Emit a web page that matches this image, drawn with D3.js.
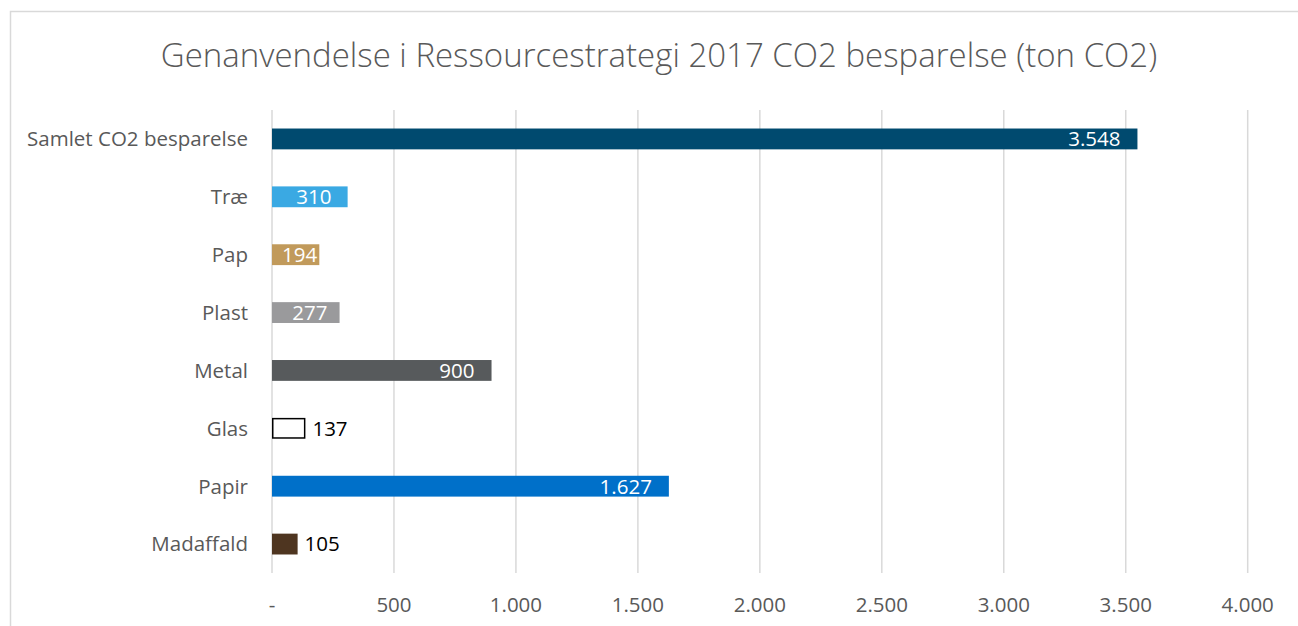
<!DOCTYPE html>
<html><head><meta charset="utf-8">
<script src="https://cdn.jsdelivr.net/npm/d3@7"></script>
<style>body{margin:0;background:#fff}svg{display:block}text{font-family:"Open Sans",sans-serif}</style>
</head><body><svg id="c" width="1298" height="626"></svg>
<script>
const title = "Genanvendelse i Ressourcestrategi 2017 CO2 besparelse (ton CO2)";
const categories = ["Samlet CO2 besparelse","Træ","Pap","Plast","Metal","Glas","Papir","Madaffald"];
const values = [3548,310,194,277,900,137,1627,105];
const colors = ["#004A6F","#3AA9E3","#C19A5B","#9A9A9C","#575A5C","#FFFFFF","#0070C9","#4E3520"];
const tickValues = [0,500,1000,1500,2000,2500,3000,3500,4000];
const tickLabels = ["-","500","1.000","1.500","2.000","2.500","3.000","3.500","4.000"];
const valueLabels = ["3.548","310","194","277","900","137","1.627","105"];
const outsideLabel = [false,false,false,false,false,true,false,true];

const svg = d3.select("#c");
svg.append("rect").attr("x",10.5).attr("y",11.5).attr("width",1400).attr("height",800)
  .attr("fill","#fff").attr("stroke","#d9d9d9").attr("stroke-width",1.5);

svg.append("text").attr("x",659).attr("y",67).attr("text-anchor","middle")
  .attr("fill","#595959").style("font-size","33px").style("font-weight",300).text(title);

const x = d3.scaleLinear().domain([0,4000]).range([272,1247.7]);
const y = d3.scaleBand().domain(categories).range([110,573]).paddingInner(0.64).paddingOuter(0.32);

svg.append("g").selectAll("line").data(tickValues).join("line")
  .attr("x1",d=>x(d)).attr("x2",d=>x(d)).attr("y1",110).attr("y2",573)
  .attr("stroke","#d9d9d9").attr("stroke-width",1.5);

svg.append("g").selectAll("text").data(tickValues).join("text")
  .attr("x",d=>x(d)).attr("y",612).attr("text-anchor","middle")
  .attr("fill","#595959").style("font-size","20.5px").text((d,i)=>tickLabels[i]);

svg.append("g").selectAll("text").data(categories).join("text")
  .attr("x",248).attr("y",d=>y(d)+y.bandwidth()/2).attr("dy","0.36em").attr("text-anchor","end")
  .attr("fill","#595959").style("font-size","20.5px").text(d=>d);

svg.append("g").selectAll("rect").data(categories).join("rect")
  .attr("x",(d,i)=>x(0)+(colors[i]==="#FFFFFF"?0.75:0))
  .attr("y",(d,i)=>y(d)+(colors[i]==="#FFFFFF"?0.75:0))
  .attr("width",(d,i)=>x(values[i])-x(0)-(colors[i]==="#FFFFFF"?1.5:0))
  .attr("height",(d,i)=>y.bandwidth()-(colors[i]==="#FFFFFF"?1.5:0))
  .attr("fill",(d,i)=>colors[i])
  .attr("stroke",(d,i)=>colors[i]==="#FFFFFF"?"#000":"none").attr("stroke-width",1.5);

svg.append("g").selectAll("text").data(categories).join("text")
  .attr("y",d=>y(d)+y.bandwidth()/2).attr("dy","0.36em")
  .style("font-size","20.5px")
  .attr("fill",(d,i)=>outsideLabel[i]?"#000":"#fff")
  .attr("text-anchor",(d,i)=>{
     if(outsideLabel[i]) return "start";
     return (x(values[i])-x(0))<90?"middle":"end";})
  .attr("x",(d,i)=>{
     const e=x(values[i]);
     if(outsideLabel[i]) return e+7;
     if(e-x(0)<90) return (x(0)+e)/2+4;
     return e-17;})
  .text((d,i)=>valueLabels[i]);
</script></body></html>
